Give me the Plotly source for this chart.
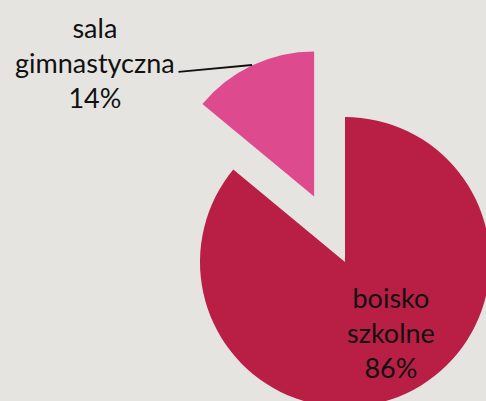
import plotly.graph_objects as go

# data
labels = ["boisko<br>szkolne", "sala<br>gimnastyczna"]
values = [86, 14]
colors = ["#B91E45", "#DE4A8E"]
pulls = [0, 0.5]

# layout geometry (window is 486x401; figure overflows to crop the pie)
W, H = 570, 490
cx, cy, r = 345, 262, 145
half = r * (1 + max(pulls))
dom_x = [(cx - half) / W, (cx + half) / W]
dom_y = [1 - (cy + half) / H, 1 - (cy - half) / H]

total = sum(values)
pct = [round(v * 100 / total) for v in values]

fig = go.Figure(go.Pie(
    labels=labels,
    values=values,
    pull=pulls,
    sort=False,
    direction="clockwise",
    rotation=0,
    marker=dict(colors=colors, line=dict(width=0)),
    textinfo="none",
    hoverinfo="label+percent",
    domain=dict(x=dom_x, y=dom_y),
    showlegend=False,
))

font = dict(family="Lato, 'Open Sans', sans-serif", size=27, color="#111111")

# crimson slice label (inside)
fig.add_annotation(
    x=391 / W, y=1 - 332 / H, xref="paper", yref="paper",
    text=f"{labels[0]}<br>{pct[0]}%", showarrow=False, font=font,
    xanchor="center", yanchor="middle", align="center",
)
# pink slice label (outside)
fig.add_annotation(
    x=95 / W, y=1 - 63 / H, xref="paper", yref="paper",
    text=f"{labels[1]}<br>{pct[1]}%", showarrow=False, font=font,
    xanchor="center", yanchor="middle", align="center",
)
# leader line
fig.add_annotation(
    x=252 / W, y=1 - 65 / H, xref="paper", yref="paper",
    text=" ", showarrow=True, arrowhead=0,
    arrowwidth=1.8, arrowcolor="#111111",
    ax=177 - 252, ay=72 - 65, font=dict(size=1),
)

fig.update_layout(
    width=W, height=H,
    margin=dict(l=0, r=0, t=0, b=0),
    paper_bgcolor="#E6E4E0",
    plot_bgcolor="#E6E4E0",
)

fig.write_html(
    "out.html",
    post_script="document.body.style.margin='0';document.body.style.overflow='hidden';document.documentElement.style.overflow='hidden';document.body.style.background='#E6E4E0';",
)
